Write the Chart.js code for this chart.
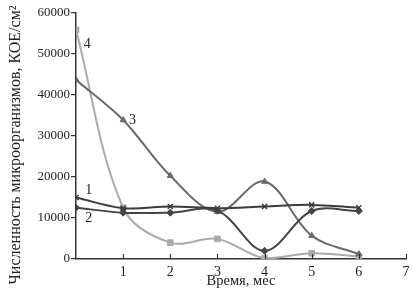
<!DOCTYPE html>
<html>
<head>
<meta charset="utf-8">
<script src="https://cdn.jsdelivr.net/npm/chart.js@4/dist/chart.umd.min.js"></script>
<style>
  html, body { margin: 0; padding: 0; background: #fff; }
  #wrap { width: 413px; height: 296px; }
</style>
</head>
<body>
<div id="wrap"><canvas id="chart"></canvas></div>
<script>
// months on the x axis
const months = [0, 1, 2, 3, 4, 5, 6];
// microorganism counts, CFU/cm2
const series1 = [15000, 12400, 12800, 12400, 12800, 13200, 12500];
const series2 = [12500, 11300, 11300, 11800, 2000, 11700, 11700];
const series3 = [43700, 33900, 20300, 11500, 18900, 5700, 1200];
const series4 = [55900, 12500, 4000, 4900, 200, 1400, 600];
// curve labels: text, x (months), y (count)
const curveNames = ['1', '2', '3', '4'];
const curveLabelX = [0.27, 0.27, 1.2, 0.24];
const curveLabelY = [16700, 9900, 33800, 52300];
const yTitle = 'Численность микроорганизмов, КОЕ/см²';

const serif = '"Liberation Serif", "DejaVu Serif", serif';

function pts(vals)
{
  return months.map((m, i) => ({x: m, y: vals[i]}));
}

// {{{ plugin: inward x ticks, y title and curve numbers
const extras =
{
  id: 'extras',
  afterDraw(chart)
  {
    const ctx = chart.ctx;
    const xs = chart.scales.x;
    const ys = chart.scales.y;
    ctx.save();
    ctx.strokeStyle = '#333';
    ctx.lineWidth = 1.2;
    for (let v = 1; v <= 7; v++)
    {
      const px = Math.round(xs.getPixelForValue(v)) + 0.5;
      ctx.beginPath();
      ctx.moveTo(px, ys.bottom);
      ctx.lineTo(px, ys.bottom - 5);
      ctx.stroke();
    }
    ctx.fillStyle = '#222';
    ctx.font = '14px ' + serif;
    ctx.textAlign = 'center';
    ctx.textBaseline = 'middle';
    curveNames.forEach((t, i) =>
    {
      ctx.fillText(t, xs.getPixelForValue(curveLabelX[i]), ys.getPixelForValue(curveLabelY[i]));
    });
    // y axis title, a bit lower than the plot centre as in the original
    ctx.translate(16, 145);
    ctx.rotate(-Math.PI / 2);
    ctx.font = '16px ' + serif;
    ctx.fillText(yTitle, 0, 0);
    ctx.restore();
  }
};
// }}}

const colors = ['#3c3c3c', '#454545', '#6a6a6a', '#ababab'];
const markers = ['crossRot', 'rectRot', 'triangle', 'rect'];
const all = [series1, series2, series3, series4];

new Chart(document.getElementById('chart'),
{
  type: 'line',
  data:
  {
    datasets: all.map((s, i) => ({
      label: curveNames[i],
      data: pts(s),
      borderColor: colors[i],
      backgroundColor: colors[i],
      borderWidth: 2,
      tension: 0.35,
      pointStyle: markers[i],
      pointRadius: i == 3 ? 4 : 3.5,
      pointBorderWidth: i == 0 ? 1.5 : 1,
      pointBorderColor: colors[i],
      pointBackgroundColor: colors[i]
    }))
  },
  options:
  {
    responsive: true,
    maintainAspectRatio: false,
    animation: false,
    layout: {padding: {left: 0, right: 7, top: 13, bottom: 0}},
    plugins: {legend: {display: false}, tooltip: {enabled: false}},
    scales:
    {
      x:
      {
        type: 'linear',
        min: 0,
        max: 7,
        grid: {display: false},
        border: {display: true, color: '#333', width: 1.5},
        ticks:
        {
          stepSize: 1,
          color: '#222',
          font: {family: serif, size: 14},
          padding: -3,
          maxRotation: 0,
          callback: (v) => (v == 0 ? '' : String(v))
        },
        title: {display: true, text: 'Время, мес', color: '#222', font: {family: serif, size: 14.5}, padding: {top: 0, bottom: 6}},
        afterFit: (sc) => { sc.height = 37; }
      },
      y:
      {
        min: 0,
        max: 60000,
        grid: {drawOnChartArea: false, color: '#333', tickLength: 5, lineWidth: 1.2},
        border: {display: true, color: '#333', width: 1.5},
        ticks:
        {
          stepSize: 10000,
          color: '#222',
          font: {family: serif, size: 13},
          padding: 1,
          callback: (v) => String(v)
        },
        title: {display: false},
        afterFit: (sc) => { sc.width = 76; }
      }
    }
  },
  plugins: [extras]
});
</script>
</body>
</html>
